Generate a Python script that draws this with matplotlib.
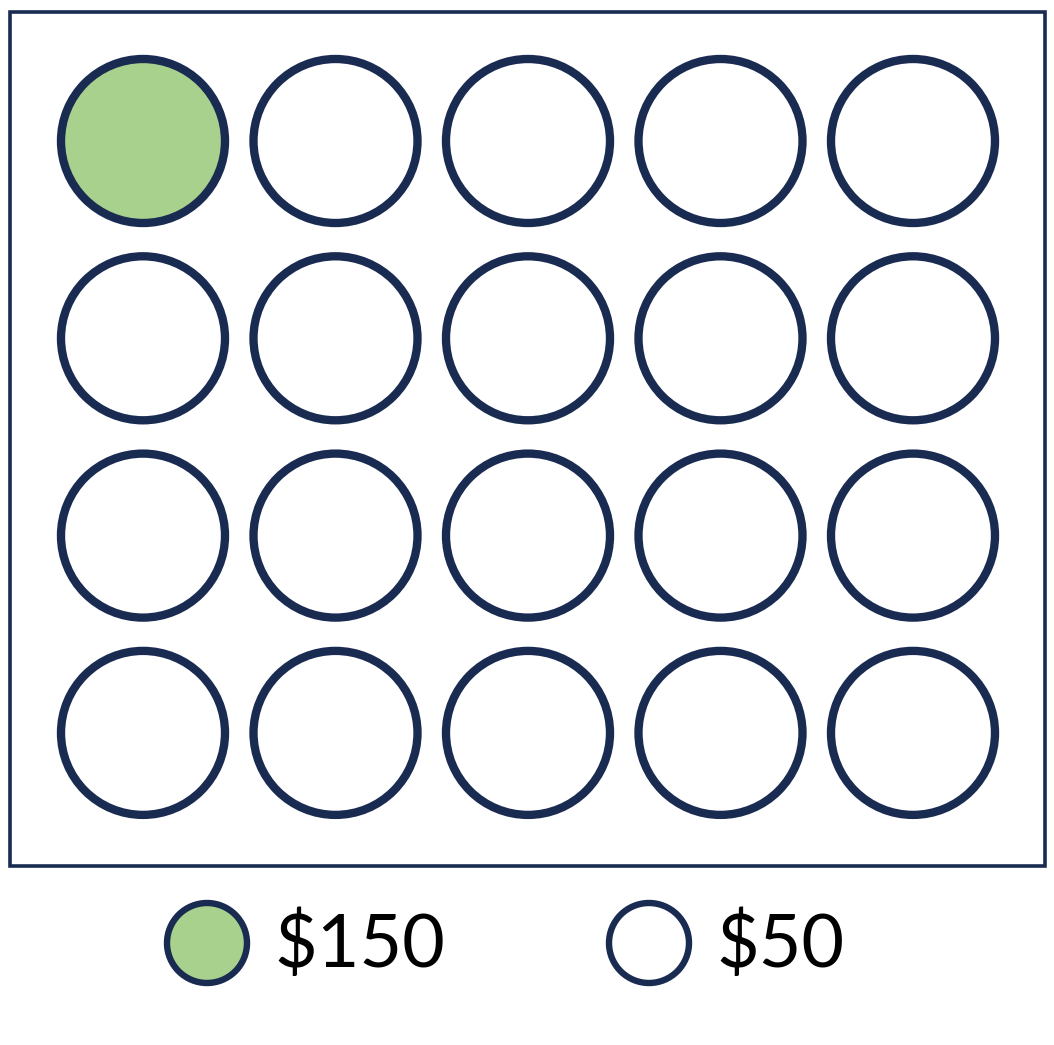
from matplotlib import pyplot as plt
from matplotlib.patches import Circle, Rectangle

# one circle per $ amount, laid out as 4 rows x 5 columns
grid_values = [
    [150, 50, 50, 50, 50],
    [50, 50, 50, 50, 50],
    [50, 50, 50, 50, 50],
    [50, 50, 50, 50, 50],
]
legend_values = [150, 50]
legend_labels = ["$150", "$50"]

navy = "#1a2b52"
fill_colors = {150: "#a9d18e", 50: "white"}

W, H = 1054, 1045


def main():
    fig = plt.figure(figsize=(W / 100, H / 100), dpi=100)
    ax = fig.add_axes([0, 0, 1, 1])
    ax.set_xlim(0, W)
    ax.set_ylim(H, 0)
    ax.axis("off")

    # outer frame
    ax.add_patch(Rectangle((10, 12), 1035, 854, fill=False, edgecolor=navy, lw=2.6))

    x0, y0, dx, dy = 143, 141, 192.5, 197.3
    for r, row in enumerate(grid_values):
        for c, v in enumerate(row):
            ax.add_patch(Circle((x0 + c * dx, y0 + r * dy), 82,
                                facecolor=fill_colors[v], edgecolor=navy, lw=6.0))

    # legend below the frame
    lx = [207, 649]
    for i, (v, lab) in enumerate(zip(legend_values, legend_labels)):
        ax.add_patch(Circle((lx[i], 943), 40, facecolor=fill_colors[v],
                            edgecolor=navy, lw=4.6))
        ax.text(lx[i] + 67, 945, lab, fontsize=53, family="Lato",
                va="center", ha="left", color="black")

    fig.savefig("out.png", dpi=100, facecolor="white")


if __name__ == "__main__":
    main()
